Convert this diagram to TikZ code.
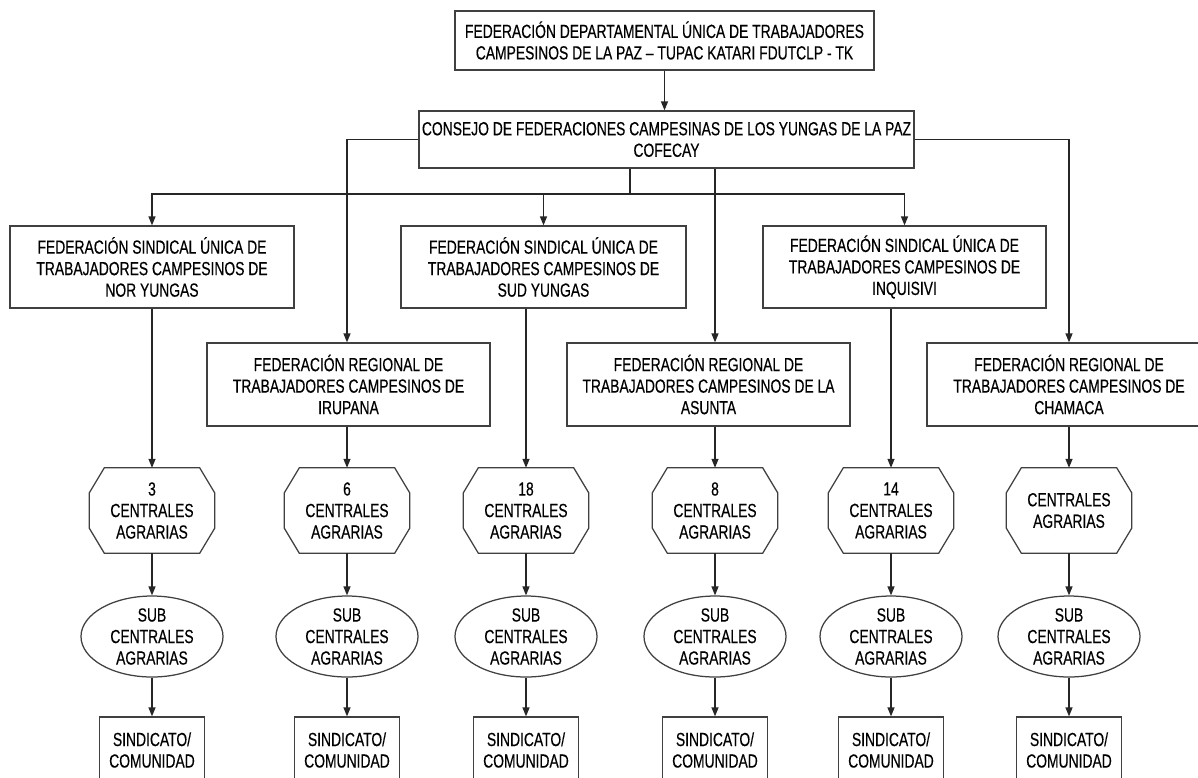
\documentclass[tikz,border=0pt]{standalone}
\usepackage{fontspec}
\setmainfont{Liberation Sans}[FakeStretch=0.73,FakeBold=0.35]
\usetikzlibrary{arrows.meta,shapes.geometric}
\begin{document}
\begin{tikzpicture}[x=1pt,y=-1pt,
  every node/.style={font=\fontsize{19}{21.5}\selectfont, text=black, align=center, inner sep=0pt},
  box/.style={draw=black!75, line width=1.25pt, rectangle},
  oct/.style={minimum width=125pt, minimum height=85pt},
  ell/.style={draw=black!75, line width=1.25pt, ellipse, minimum width=142pt, minimum height=81pt},
  sind/.style={box, minimum width=105pt, minimum height=66pt},
  conn/.style={draw=black!85, line width=1.25pt},
  arr/.style={conn, -{Triangle[length=9pt,width=7pt]}}]
\clip (0,0) rectangle (1198,777);
\useasboundingbox (0,0) rectangle (1198,777);
\fill[white] (0,0) rectangle (1198,777);
% column coordinates
\coordinate (c1) at (152,0);
\coordinate (c2) at (347,0);
\coordinate (c3) at (526,0);
\coordinate (c4) at (715,0);
\coordinate (c5) at (891,0);
\coordinate (c6) at (1069,0);
% top levels
\node[box, minimum width=419pt, minimum height=59pt] (top) at (664.5,40.5)
  {FEDERACIÓN DEPARTAMENTAL ÚNICA DE TRABAJADORES\\CAMPESINOS DE LA PAZ – TUPAC KATARI FDUTCLP - TK};
\node[box, minimum width=495pt, minimum height=57pt] (cons) at (666.5,139.5)
  {CONSEJO DE FEDERACIONES CAMPESINAS DE LOS YUNGAS DE LA PAZ\\COFECAY};
% sindical federations
\node[box, minimum width=284pt, minimum height=82pt] (ny) at (152,267)
  {FEDERACIÓN SINDICAL ÚNICA DE\\TRABAJADORES CAMPESINOS DE\\NOR YUNGAS};
\node[box, minimum width=285pt, minimum height=82pt] (sy) at (543.5,267)
  {FEDERACIÓN SINDICAL ÚNICA DE\\TRABAJADORES CAMPESINOS DE\\SUD YUNGAS};
\node[box, minimum width=283pt, minimum height=82pt] (inq) at (904.5,267)
  {FEDERACIÓN SINDICAL ÚNICA DE\\TRABAJADORES CAMPESINOS DE\\INQUISIVI};
% regional federations
\node[box, minimum width=283pt, minimum height=83pt] (iru) at (348.5,384.5)
  {FEDERACIÓN REGIONAL DE\\TRABAJADORES CAMPESINOS DE\\IRUPANA};
\node[box, minimum width=283pt, minimum height=83pt] (asu) at (708.5,384.5)
  {FEDERACIÓN REGIONAL DE\\TRABAJADORES CAMPESINOS DE LA\\ASUNTA};
\node[box, minimum width=284pt, minimum height=83pt] (cha) at (1069,384.5)
  {FEDERACIÓN REGIONAL DE\\TRABAJADORES CAMPESINOS DE\\CHAMACA};
% centrales (octagons)
\node[oct] (o1) at (152,510.5) {3\\CENTRALES\\AGRARIAS};
\node[oct] (o2) at (347,510.5) {6\\CENTRALES\\AGRARIAS};
\node[oct] (o3) at (526,510.5) {18\\CENTRALES\\AGRARIAS};
\node[oct] (o4) at (715,510.5) {8\\CENTRALES\\AGRARIAS};
\node[oct] (o5) at (891,510.5) {14\\CENTRALES\\AGRARIAS};
\node[oct] (o6) at (1069,510.5) {CENTRALES\\AGRARIAS};
\foreach \o in {o1,o2,o3,o4,o5,o6}{
  \draw[draw=black!75, line width=1.25pt]
    ([xshift=15pt]\o.north west) -- ([xshift=-15pt]\o.north east)
    -- ([yshift=-25pt]\o.north east) -- ([yshift=25pt]\o.south east)
    -- ([xshift=-15pt]\o.south east) -- ([xshift=15pt]\o.south west)
    -- ([yshift=25pt]\o.south west) -- ([yshift=-25pt]\o.north west) -- cycle;
}
% sub centrales (ellipses)
\foreach \i/\x in {1/152,2/347,3/526,4/715,5/891,6/1069}{
  \node[ell] (e\i) at (\x,636.5) {SUB\\CENTRALES\\AGRARIAS};
  \node[sind] (s\i) at (\x,750) {SINDICATO/\\COMUNIDAD};
  \draw[arr] (o\i.south) -- (e\i.north);
  \draw[arr] (e\i.south) -- (s\i.north);
}
% connectors
\draw[arr] (top.south) -- (top.south |- cons.north);
\coordinate (split) at (630,194);
\draw[conn] (split |- cons.south) -- (split);
\draw[arr] (split) -| (ny.north);
\draw[arr] (split) -| (sy.north);
\draw[arr] (split) -| (inq.north);
\draw[arr] (cons.west) -| (c2 |- iru.north);
\draw[arr] (cons.east) -| (cha.north);
\draw[arr] (c4 |- cons.south) -- (c4 |- asu.north);
\draw[arr] (c1 |- ny.south) -- (o1.north);
\draw[arr] (c2 |- iru.south) -- (o2.north);
\draw[arr] (c3 |- sy.south) -- (o3.north);
\draw[arr] (c4 |- asu.south) -- (o4.north);
\draw[arr] (c5 |- inq.south) -- (o5.north);
\draw[arr] (c6 |- cha.south) -- (o6.north);
\end{tikzpicture}
\end{document}
